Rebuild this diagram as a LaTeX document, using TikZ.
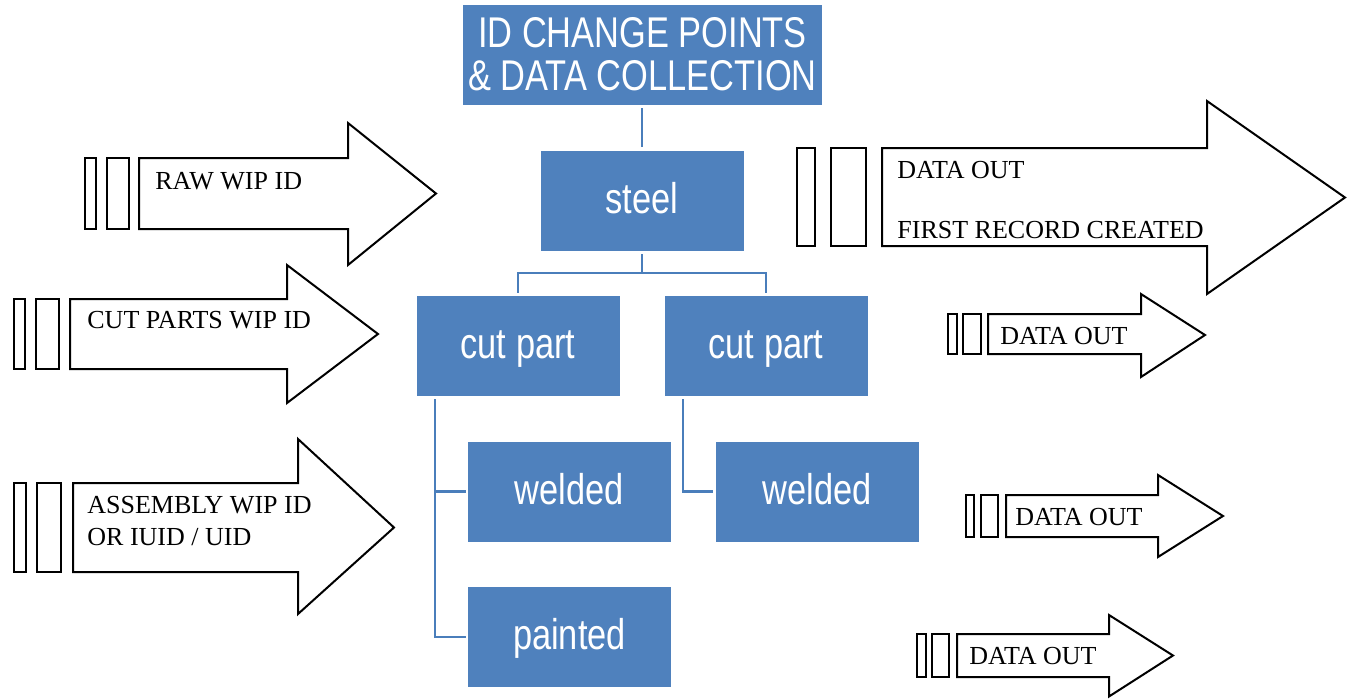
\documentclass[tikz,border=0pt]{standalone}
\usepackage{fontspec}
\setmainfont{Liberation Serif}
\newfontfamily\boxfont[FakeStretch=0.8]{Liberation Sans}
\definecolor{blockblue}{HTML}{4F81BD}
\definecolor{linkblue}{HTML}{4A7EBB}
\begin{document}
\begin{tikzpicture}[x=0.5pt,y=-0.5pt,
  boxbase/.style={fill=blockblue, text=white, inner sep=0pt,
    minimum height=50pt, font=\boxfont\fontsize{21.5}{21.5}\selectfont},
  block/.style={boxbase, minimum width=101.5pt, text height=17.2pt, text depth=4.3pt},
  headbox/.style={boxbase, minimum width=179.5pt, align=center},
  link/.style={draw=linkblue, line width=1.3pt},
  outline/.style={draw=black, line width=1pt, fill=white, line join=miter},
  tag/.style={font=\fontsize{13}{13}\selectfont, inner sep=0pt, anchor=base west}]
\useasboundingbox (0,0) rectangle (1351,698);

% ---- hierarchy of ID change points ----
\node[headbox] (title) at (642.5,54.5) {ID CHANGE POINTS\\[0pt]\& DATA COLLECTION};
\node[block] (steel) at (642,200.5) {steel};
\node[block] (cut1) at (518,346) {cut part};
\node[block] (cut2) at (766,346) {cut part};
\node[block] (weld1) at (569.5,491.5) {welded};
\node[block] (weld2) at (817,491.5) {welded};
\node[block] (paint) at (569.5,637) {painted};

\coordinate (hub) at (642,273);
\draw[link, shorten <=1.5pt, shorten >=1.5pt] (steel.north) -- (steel.north |- title.south);
\draw[link, shorten >=1.5pt] (hub) -- (steel.south);
\draw[link, shorten <=1.5pt, shorten >=1.5pt] (cut1.north) |- (hub) -| (cut2.north);
\draw[link, shorten <=1.5pt, shorten >=1pt] ([xshift=9.5pt]cut1.south west) |- (weld1.west);
\draw[link, shorten <=1.5pt, shorten >=1pt] ([xshift=9.5pt]cut1.south west) |- (paint.west);
\draw[link, shorten <=1.5pt, shorten >=1pt] ([xshift=9.5pt]cut2.south west) |- (weld2.west);

% ---- incoming ID arrows (left) ----
\draw[outline] (85,158) rectangle (96,229);
\draw[outline] (107,158) rectangle (129,229);
\draw[outline] (139,158) -- (348,158) -- (348,123) -- (436,193.5) -- (348,265) -- (348,229) -- (139,229) -- cycle;
\node[tag] (raw) at (155,189) {RAW WIP ID};

\draw[outline] (14,299) rectangle (25,369);
\draw[outline] (36,299) rectangle (59,369);
\draw[outline] (70,299) -- (287,299) -- (287,265) -- (378,334) -- (287,403) -- (287,369) -- (70,369) -- cycle;
\node[tag] (cutid) at (87,328) {CUT PARTS WIP ID};

\draw[outline] (14,483) rectangle (26,572);
\draw[outline] (37,483) rectangle (61,572);
\draw[outline] (73,483) -- (298,483) -- (298,439) -- (394,527.5) -- (298,614) -- (298,572) -- (73,572) -- cycle;
\node[tag] (asm1) at (87,513) {ASSEMBLY WIP ID};
\node[tag] (asm2) at (87,545) {OR IUID / UID};

% ---- outgoing data arrows (right) ----
\draw[outline] (797,148) rectangle (815,246);
\draw[outline] (831,148) rectangle (866,246);
\draw[outline] (882,148) -- (1207,148) -- (1207,101) -- (1345,197.5) -- (1207,294) -- (1207,246) -- (882,246) -- cycle;
\node[tag] (out1) at (897,178) {DATA OUT};
\node[tag] (first) at (897,238) {FIRST RECORD CREATED};

\draw[outline] (948,314) rectangle (957,354);
\draw[outline] (963,314) rectangle (981,354);
\draw[outline] (988,314) -- (1141,314) -- (1141,294) -- (1205,335) -- (1141,377) -- (1141,354) -- (988,354) -- cycle;
\node[tag] (out2) at (1000,344) {DATA OUT};

\draw[outline] (966,495) rectangle (974,537);
\draw[outline] (981,495) rectangle (998,537);
\draw[outline] (1006,495) -- (1158,495) -- (1158,475) -- (1223,516) -- (1158,557) -- (1158,537) -- (1006,537) -- cycle;
\node[tag] (out3) at (1015,525) {DATA OUT};

\draw[outline] (917,634) rectangle (926,677);
\draw[outline] (932,634) rectangle (949,677);
\draw[outline] (957,634) -- (1109,634) -- (1109,615) -- (1173,655.5) -- (1109,696.5) -- (1109,677) -- (957,677) -- cycle;
\node[tag] (out4) at (969,664) {DATA OUT};
\end{tikzpicture}
\end{document}
